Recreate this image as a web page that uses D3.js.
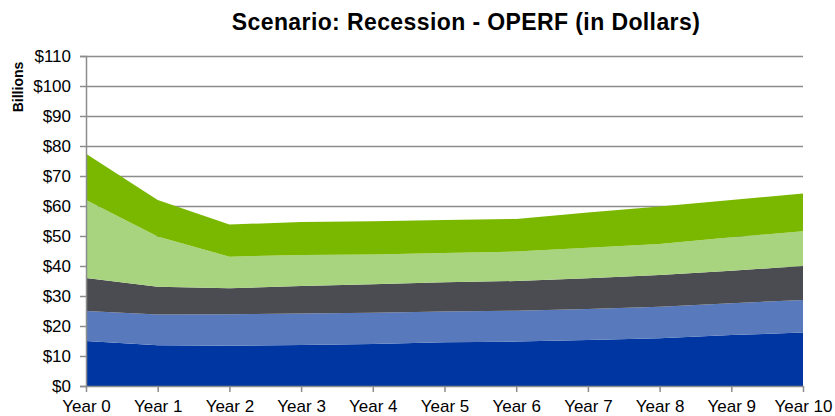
<!DOCTYPE html>
<html lang="en">
<head>
    <meta charset="UTF-8">
    <title>Scenario: Recession - OPERF (in Dollars)</title>
    <script src="https://cdn.jsdelivr.net/npm/d3@7/dist/d3.min.js"></script>
    <style>
        body { margin: 0; background: #fff; }
        svg text { font-family: Arial, "Liberation Sans", sans-serif; fill: #000; }
    </style>
</head>
<body>
    <div id="chart"></div>
    <script>
        // categorias del eje x
        var years = ["Year 0", "Year 1", "Year 2", "Year 3", "Year 4", "Year 5",
                     "Year 6", "Year 7", "Year 8", "Year 9", "Year 10"];

        // valores de cada capa (en miles de millones), de abajo hacia arriba
        var layer1 = [15.0, 13.6, 13.4, 13.7, 14.0, 14.6, 14.8, 15.3, 15.9, 17.0, 17.8];
        var layer2 = [10.0, 10.2, 10.5, 10.5, 10.4, 10.2, 10.3, 10.4, 10.5, 10.6, 10.9];
        var layer3 = [11.0, 9.3, 8.7, 9.1, 9.5, 9.8, 9.9, 10.2, 10.6, 10.8, 11.3];
        var layer4 = [26.0, 16.7, 10.5, 10.4, 9.9, 9.7, 9.8, 10.2, 10.3, 11.2, 11.6];
        var layer5 = [15.4, 12.2, 10.7, 11.0, 11.1, 11.0, 10.9, 11.7, 12.5, 12.4, 12.6];

        var yTicks = [0, 10, 20, 30, 40, 50, 60, 70, 80, 90, 100, 110];

        var keys = ["l1", "l2", "l3", "l4", "l5"];
        var colors = ["#0036a1", "#5879bc", "#4b4c51", "#a8d47f", "#7ab800"];

        var rows = years.map(function(y, i) {
            return { year: y, l1: layer1[i], l2: layer2[i], l3: layer3[i], l4: layer4[i], l5: layer5[i] };
        });

        var width = 835, height = 416;
        var plotLeft = 86, plotRight = 803, plotTop = 56, plotBottom = 386;

        var svg = d3.select("#chart").append("svg")
            .attr("width", width)
            .attr("height", height);

        var x = d3.scalePoint().domain(years).range([plotLeft, plotRight]);
        var y = d3.scaleLinear().domain([0, 110]).range([plotBottom, plotTop]);

        // lineas de la cuadricula (detras de las areas)
        svg.append("g").selectAll("line")
            .data(yTicks.filter(function(d) { return d > 0; }))
            .enter().append("line")
            .attr("x1", plotLeft).attr("x2", plotRight)
            .attr("y1", function(d) { return y(d) + 0.5; })
            .attr("y2", function(d) { return y(d) + 0.5; })
            .attr("stroke", "#8c8c8c")
            .attr("stroke-width", 1.5);

        var stack = d3.stack().keys(keys);
        var series = stack(rows);

        var area = d3.area()
            .x(function(d) { return x(d.data.year); })
            .y0(function(d) { return y(d[0]); })
            .y1(function(d) { return y(d[1]); });

        svg.append("g").selectAll("path")
            .data(series)
            .enter().append("path")
            .attr("d", area)
            .attr("fill", function(d, i) { return colors[i]; });

        // eje y
        var yAxis = svg.append("g")
            .attr("transform", "translate(" + plotLeft + ",0)")
            .call(d3.axisLeft(y).tickValues(yTicks).tickSize(6).tickPadding(9)
                .tickFormat(function(d) { return "$" + d; }));
        yAxis.select(".domain").attr("stroke", "#8c8c8c").attr("stroke-width", 1.5);
        yAxis.selectAll(".tick line").attr("stroke", "#8c8c8c").attr("stroke-width", 1.5);
        yAxis.selectAll("text").style("font-size", "17px").attr("fill", "#000");

        // eje x
        var xAxis = svg.append("g")
            .attr("transform", "translate(0," + plotBottom + ")")
            .call(d3.axisBottom(x).tickSize(6).tickPadding(8).tickSizeOuter(0));
        xAxis.select(".domain").attr("stroke", "#8c8c8c").attr("stroke-width", 1.5);
        xAxis.selectAll(".tick line").attr("stroke", "#8c8c8c").attr("stroke-width", 1.5);
        xAxis.selectAll("text").style("font-size", "17px").attr("fill", "#000");

        // titulo
        svg.append("text")
            .attr("x", 466)
            .attr("y", 30)
            .attr("text-anchor", "middle")
            .style("font-size", "23px")
            .style("font-weight", "bold")
            .style("letter-spacing", "0.4px")
            .text("Scenario: Recession - OPERF (in Dollars)");

        // etiqueta del eje y
        svg.append("text")
            .attr("transform", "translate(23,87) rotate(-90)")
            .attr("text-anchor", "middle")
            .style("font-size", "14px")
            .style("font-weight", "bold")
            .text("Billions");
    </script>
</body>
</html>
